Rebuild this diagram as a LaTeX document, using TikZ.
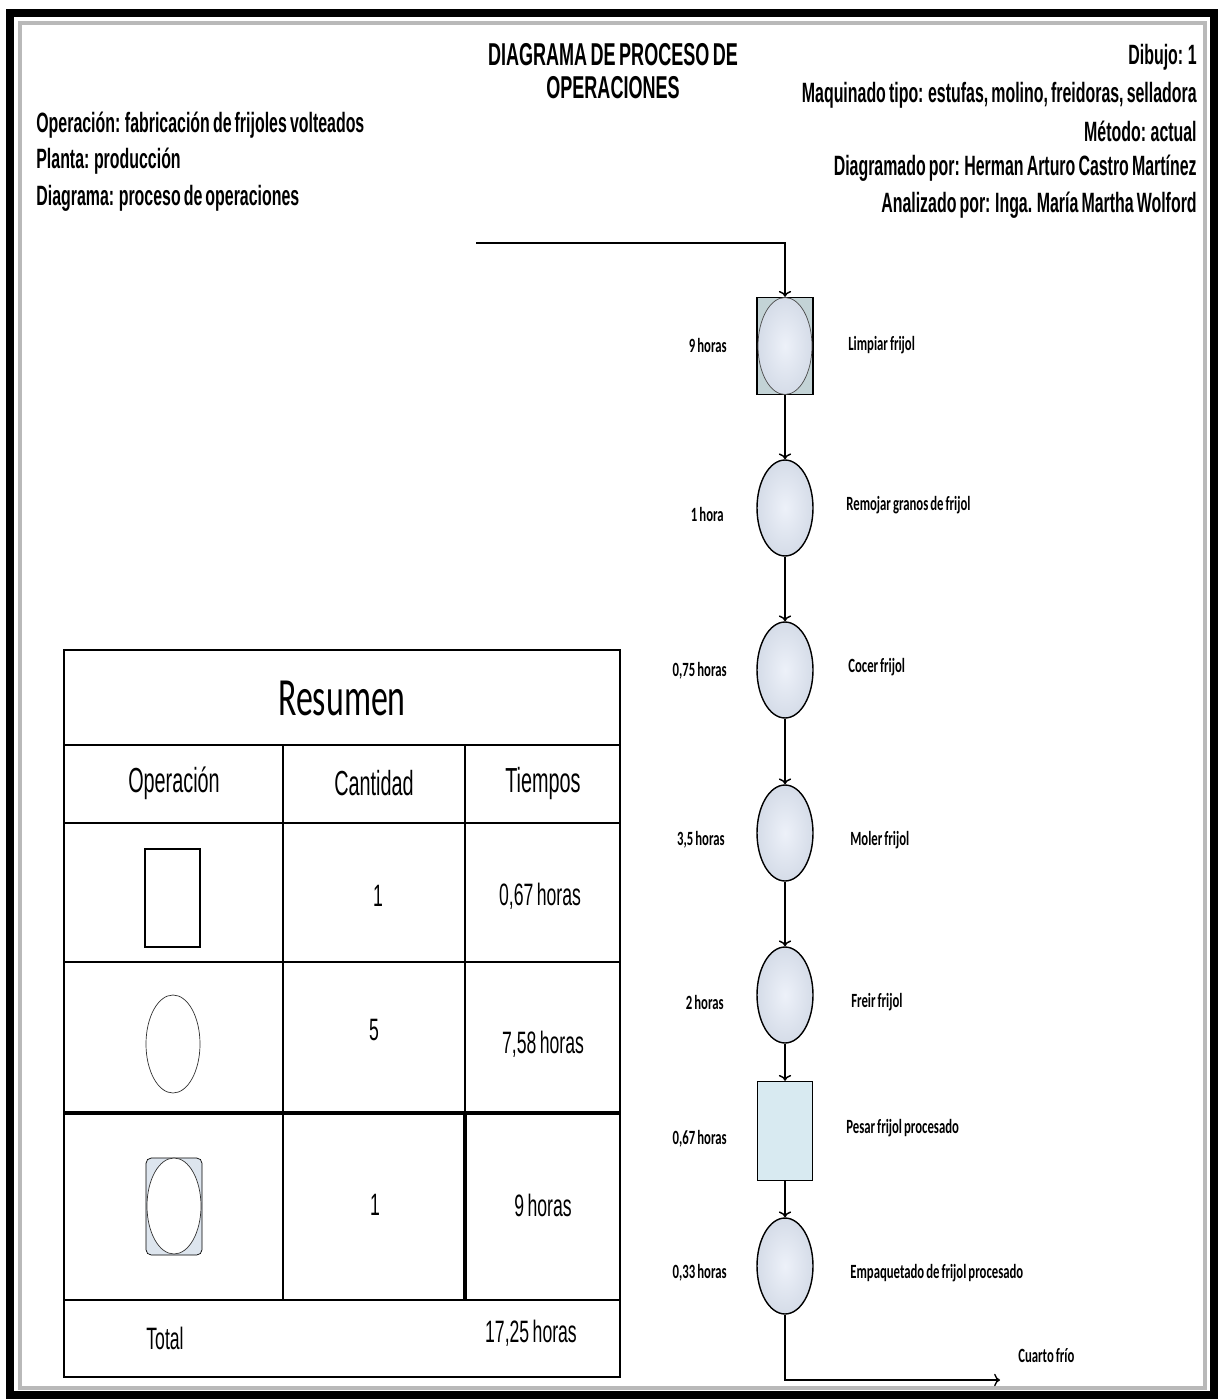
\documentclass[tikz,border=0pt]{standalone}
\usepackage{fontspec}
\setmainfont{Liberation Sans}
\newfontfamily\narrowfont{Liberation Sans}[FakeStretch=0.57, WordSpace=0.7]
\newfontfamily\califont{Carlito}[FakeStretch=0.63, WordSpace=0.7]
\usetikzlibrary{shapes.geometric,arrows.meta}
\definecolor{opfill}{HTML}{EDF1F9}
\definecolor{opedge}{HTML}{D5DCE8}
\definecolor{insfill}{HTML}{D8EAF1}
\definecolor{combfill}{HTML}{C3D3D6}
\definecolor{symfill}{HTML}{DDE5EE}
\tikzset{
  info/.style={font=\narrowfont\bfseries\fontsize{15.9}{18}\selectfont, inner sep=0},
  title/.style={font=\narrowfont\bfseries\fontsize{18}{20}\selectfont, inner sep=0},
  lbl/.style={font=\califont\bfseries\fontsize{11.5}{13}\selectfont, inner sep=0},
  cell/.style={font=\narrowfont\fontsize{17.6}{20}\selectfont, inner sep=0},
  head/.style={font=\narrowfont\fontsize{19.8}{22}\selectfont, inner sep=0},
  op/.style={ellipse, draw, thick, inner color=opfill, outer color=opedge, minimum width=1.12cm, minimum height=1.92cm, inner sep=0},
  ins/.style={rectangle, draw, thick, fill=insfill, minimum width=1.1cm, minimum height=1.98cm, inner sep=0},
  comb/.style={rectangle, draw, thick, fill=combfill, minimum width=1.12cm, minimum height=1.94cm, inner sep=0},
  flow/.style={->, thick}
}
\begin{document}
\begin{tikzpicture}[x=0.02cm, y=-0.02cm]
  \useasboundingbox (0,0) rectangle (1223,1399);
  \draw[line width=5pt] (10,13) rectangle (1214,1395);
  \draw[gray!55, line width=2pt] (20,23) rectangle (1205,1388);

  % encabezado
  \node[title] (tit1) at (613,55) {DIAGRAMA DE PROCESO DE};
  \node[title] (tit2) at (613,88) {OPERACIONES};
  \node[info, anchor=west] (oper) at (36,125) {Operación: fabricación de frijoles volteados};
  \node[info, anchor=west] (planta) at (36,161) {Planta: producción};
  \node[info, anchor=west] (diag) at (36,198) {Diagrama: proceso de operaciones};
  \node[info, anchor=east] (dibujo) at (1197,57) {Dibujo: 1};
  \node[info, anchor=east] (maq) at (1197,95) {Maquinado tipo: estufas, molino, freidoras, selladora};
  \node[info, anchor=east] (metodo) at (1197,131) {Método: actual};
  \node[info, anchor=east] (diagpor) at (1197,168) {Diagramado por: Herman Arturo Castro Martínez};
  \node[info, anchor=east] (analiz) at (1197,205) {Analizado por: Inga. María Martha Wolford};

  % proceso
  \node[comb] (limpiar) at (785,346) {};
  \node[op, thin, draw=black!70, minimum width=1.08cm, minimum height=1.94cm] (limpiarop) at (limpiar) {};
  \node[op] (remojar) at (785,508) {};
  \node[op] (cocer) at (785,670) {};
  \node[op] (moler) at (785,833) {};
  \node[op] (freir) at (785,995) {};
  \node[ins] (pesar) at (785,1131) {};
  \node[op] (empaq) at (785,1266) {};
  \coordinate (entrada) at (476,243);
  \coordinate (salida) at (1000,1380);

  \draw[flow] (entrada) -| (limpiar);
  \draw[flow] (limpiar) -- (remojar);
  \draw[flow] (remojar) -- (cocer);
  \draw[flow] (cocer) -- (moler);
  \draw[flow] (moler) -- (freir);
  \draw[flow] (freir) -- (pesar);
  \draw[flow] (pesar) -- (empaq);
  \draw[flow] (empaq) |- (salida);

  \node[lbl, anchor=east] (t1) at (727,345) {9 horas};
  \node[lbl, anchor=east] (t2) at (724,514) {1 hora};
  \node[lbl, anchor=east] (t3) at (727,671) {0,75 horas};
  \node[lbl, anchor=east] (t4) at (725,840) {3,5 horas};
  \node[lbl, anchor=east] (t5) at (724,1002) {2 horas};
  \node[lbl, anchor=east] (t6) at (727,1139) {0,67 horas};
  \node[lbl, anchor=east] (t7) at (727,1273) {0,33 horas};
  \node[lbl, anchor=west] (d1) at (848,345) {Limpiar frijol};
  \node[lbl, anchor=west] (d2) at (846,505) {Remojar granos de frijol};
  \node[lbl, anchor=west] (d3) at (848,667) {Cocer frijol};
  \node[lbl, anchor=west] (d4) at (850,840) {Moler frijol};
  \node[lbl, anchor=west] (d5) at (851,1002) {Freir frijol};
  \node[lbl, anchor=west] (d6) at (846,1128) {Pesar frijol procesado};
  \node[lbl, anchor=west] (d7) at (850,1273) {Empaquetado de frijol procesado};
  \node[lbl, anchor=west] (cuarto) at (1018,1356) {Cuarto frío};

  % resumen
  \draw[line width=1.4pt] (64,650) rectangle (620,1377);
  \draw[line width=0.9pt] (64,745) -- (620,745) (64,823) -- (620,823) (64,962) -- (620,962) (64,1300) -- (620,1300);
  \draw[line width=0.9pt] (283,745) -- (283,1300) (465,745) -- (465,1113);
  \draw[line width=1.8pt] (64,1113) -- (620,1113) (465,1113) -- (465,1300);
  \node[font=\califont\fontsize{30.6}{34}\selectfont, inner sep=0] (resumen) at (342,698) {Resumen};
  \node[head] (hop) at (174,783) {Operación};
  \node[head] (hcant) at (374,783) {Cantidad};
  \node[head] (htiem) at (543,783) {Tiempos};
  \draw[line width=1pt] (145,849) rectangle (200,947);
  \draw[black!80] (173,1044) ellipse [x radius=27, y radius=49];
  \draw[fill=symfill, rounded corners=3pt] (146,1158) rectangle (202,1255);
  \draw[black!80, fill=white] (174,1206) ellipse [x radius=27, y radius=48];
  \node[cell] (c1) at (378,896) {1};
  \node[cell] (c2) at (540,896) {0,67 horas};
  \node[cell] (c3) at (374,1030) {5};
  \node[cell] (c4) at (543,1044) {7,58 horas};
  \node[cell] (c5) at (375,1205) {1};
  \node[cell] (c6) at (543,1205) {9 horas};
  \node[cell] (total) at (165,1338) {Total};
  \node[cell] (c7) at (531,1333) {17,25 horas};
\end{tikzpicture}
\end{document}
